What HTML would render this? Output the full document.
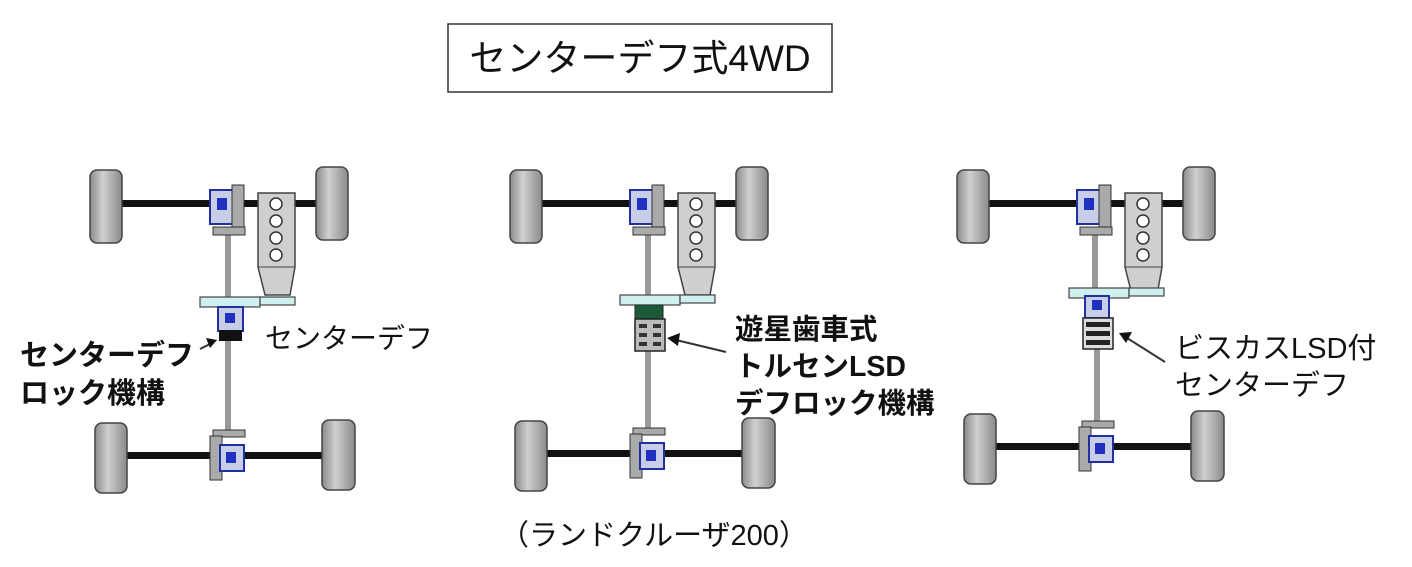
<!DOCTYPE html>
<html><head><meta charset="utf-8"><style>
body{margin:0;background:#fff;}
svg{display:block}
text{font-family:"Liberation Sans","Noto Sans CJK JP",sans-serif;fill:#111}
</style></head><body>
<svg width="1412" height="567" viewBox="0 0 1412 567" xmlns="http://www.w3.org/2000/svg">
<defs>
<linearGradient id="wh" x1="0" x2="1"><stop offset="0" stop-color="#8a8a8a"/><stop offset="0.4" stop-color="#d0d0d0"/><stop offset="1" stop-color="#8a8a8a"/></linearGradient>
<g id="front">
  <rect x="120" y="200" width="197" height="7" fill="#111"/>
  <rect x="90" y="170" width="32" height="73" rx="7" fill="url(#wh)" stroke="#444" stroke-width="1.5"/>
  <rect x="316" y="167" width="32" height="73" rx="7" fill="url(#wh)" stroke="#444" stroke-width="1.5"/>
  <rect x="225" y="230" width="6" height="70" fill="#999"/>
  <rect x="210" y="190" width="24" height="34" fill="#c8cde8" stroke="#2030a0" stroke-width="2"/>
  <rect x="217" y="198" width="10" height="12" fill="#2030c0"/>
  <rect x="232" y="185" width="12" height="48" fill="#aaa" stroke="#333" stroke-width="1"/>
  <rect x="213" y="227" width="32" height="8" fill="#aaa" stroke="#333" stroke-width="1"/>
  <path d="M258 193 H295 V267 L290 295 H265 L258 267 Z" fill="#cfcfcf" stroke="#444" stroke-width="1.5"/>
  <line x1="258" y1="267" x2="295" y2="267" stroke="#444"/>
  <circle cx="276" cy="204" r="6" fill="#fff" stroke="#333" stroke-width="1.5"/>
  <circle cx="276" cy="221" r="6" fill="#fff" stroke="#333" stroke-width="1.5"/>
  <circle cx="276" cy="238" r="6" fill="#fff" stroke="#333" stroke-width="1.5"/>
  <circle cx="276" cy="255" r="6" fill="#fff" stroke="#333" stroke-width="1.5"/>
</g>
<g id="rear">
  <rect x="225" y="300" width="6" height="135" fill="#999"/>
  <rect x="200" y="297" width="60" height="10" fill="#d0f0f0" stroke="#444" stroke-width="1.2"/>
  <rect x="260" y="297" width="35" height="8" fill="#d0f0f0" stroke="#444" stroke-width="1.2"/>
  <rect x="125" y="452" width="200" height="7" fill="#111"/>
  <rect x="95" y="423" width="32" height="70" rx="7" fill="url(#wh)" stroke="#444" stroke-width="1.5"/>
  <rect x="322" y="420" width="33" height="70" rx="7" fill="url(#wh)" stroke="#444" stroke-width="1.5"/>
  <rect x="213" y="430" width="32" height="7" fill="#aaa" stroke="#333" stroke-width="1"/>
  <rect x="210" y="436" width="12" height="44" fill="#aaa" stroke="#333" stroke-width="1"/>
  <rect x="220" y="445" width="24" height="26" fill="#c8cde8" stroke="#2030a0" stroke-width="2"/>
  <rect x="226" y="452" width="10" height="11" fill="#2030c0"/>
</g>
</defs>

<rect x="448" y="24" width="384" height="68" fill="#fff" stroke="#333" stroke-width="1.5"/>
<text x="640" y="71" font-size="37" text-anchor="middle">センターデフ式4WD</text>

<!-- left -->
<use href="#front"/>
<use href="#rear"/>
<rect x="218" y="307" width="25" height="24" fill="#c8cde8" stroke="#2030a0" stroke-width="2"/>
<rect x="225" y="313" width="10" height="10" fill="#2030c0"/>
<rect x="219" y="330" width="23" height="11" fill="#111"/>
<line x1="200" y1="349" x2="212" y2="343" stroke="#333" stroke-width="2"/>
<path d="M217 340 L206 338 L210 348 Z" fill="#111"/>
<text x="265" y="348" font-size="28">センターデフ</text>
<text x="20" y="365" font-size="29" font-weight="bold">センターデフ</text>
<text x="20" y="403" font-size="29" font-weight="bold">ロック機構</text>

<!-- middle -->
<g transform="translate(420,0)">
<use href="#front"/>
<use href="#rear" transform="translate(0,-2)"/>
<rect x="215" y="305" width="28" height="14" fill="#1d5a3a" stroke="#222"/>
<rect x="215" y="319" width="30" height="32" fill="#bbb" stroke="#222" stroke-width="1.5"/>
<rect x="219" y="324" width="8" height="4" fill="#333"/><rect x="233" y="324" width="8" height="4" fill="#333"/>
<rect x="219" y="333" width="8" height="4" fill="#333"/><rect x="233" y="333" width="8" height="4" fill="#333"/>
<rect x="219" y="342" width="8" height="4" fill="#333"/><rect x="233" y="342" width="8" height="4" fill="#333"/>
<line x1="306" y1="352" x2="256" y2="340" stroke="#333" stroke-width="2"/>
<path d="M247 338 L260 333 L258 346 Z" fill="#111"/>
</g>
<text x="735" y="339" font-size="28.5" font-weight="bold">遊星歯車式</text>
<text x="735" y="376" font-size="28.5" font-weight="bold">トルセンLSD</text>
<text x="735" y="413" font-size="28.5" font-weight="bold">デフロック機構</text>
<text x="500" y="545" font-size="29">（ランドクルーザ200）</text>

<!-- right -->
<g transform="translate(867,0)">
<use href="#front"/>
<use href="#rear" transform="translate(2,-9)"/>
<rect x="218" y="296" width="24" height="22" fill="#c8cde8" stroke="#2030a0" stroke-width="2"/>
<rect x="225" y="300" width="10" height="10" fill="#2030c0"/>
<rect x="216" y="318" width="30" height="31" fill="#ddd" stroke="#222" stroke-width="1.5"/>
<rect x="219" y="322" width="24" height="5" fill="#222"/>
<rect x="219" y="331" width="24" height="5" fill="#222"/>
<rect x="219" y="340" width="24" height="5" fill="#222"/>
<line x1="298" y1="362" x2="260" y2="338" stroke="#333" stroke-width="2"/>
<path d="M252 333 L265 332 L259 343 Z" fill="#111"/>
</g>
<text x="1175" y="358" font-size="29">ビスカスLSD付</text>
<text x="1175" y="395" font-size="29">センターデフ</text>
</svg>
</body></html>
